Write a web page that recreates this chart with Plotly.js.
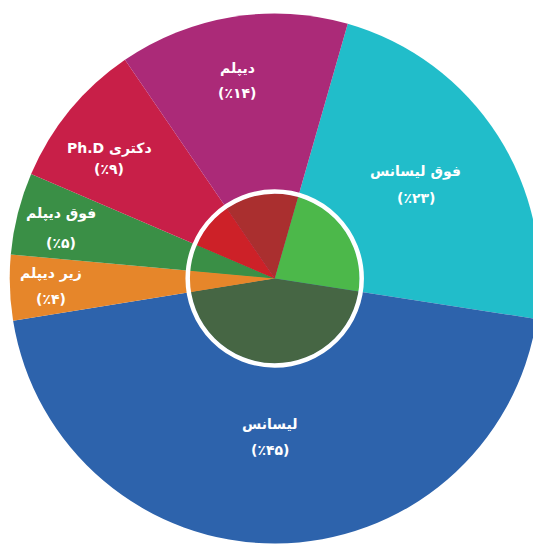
<!DOCTYPE html>
<html>
<head>
<meta charset="utf-8">
<script src="https://cdn.plot.ly/plotly-3.0.1.min.js"></script>
<style>html,body{margin:0;padding:0;overflow:hidden;background:#fff}</style>
</head>
<body>
<div id="chart"></div>
<script>
// Data (slice order as drawn, clockwise from top-right)
var labels = ['فوق لیسانس', 'لیسانس', 'زیر دیپلم', 'فوق دیپلم', 'Ph.D دکتری', 'دیپلم'];
var values = [23, 45, 4, 5, 9, 14];
var pctLabels = ['(٪۲۳)', '(٪۴۵)', '(٪۴)', '(٪۵)', '(٪۹)', '(٪۱۴)'];
var outerColors = ['#21bdca', '#2d63ac', '#e6862a', '#3a8f46', '#c81f48', '#ab2a78'];
var innerColors = ['#4cb84a', '#466644', '#e6862a', '#3a8f46', '#cd2128', '#aa2f2f'];

// Layout geometry (pixels)
var W = 560, H = 544;
var cx = 274.7, cy = 278.5, R = 265, r = 85, ringR = 87;
var rotation = 16;
var labelFrac = [0.64, 0.60, 0.845, 0.83, 0.77, 0.76];
var labelDAng = [1, -2, 0, 1, 3.5, 1.5];
var lineGap = [13, 13, 13, 15, 10, 12.5];

function px2x(p) { return p / W; }
function py2y(p) { return (H - p) / H; }

var traces = [
  {
    type: 'pie', labels: labels, values: values, sort: false,
    direction: 'clockwise', rotation: rotation,
    marker: {colors: outerColors, line: {width: 0}},
    textinfo: 'none', hoverinfo: 'label+percent',
    domain: {x: [px2x(cx - R), px2x(cx + R)], y: [py2y(cy + R), py2y(cy - R)]},
    showlegend: false
  },
  {
    type: 'pie', labels: labels, values: values, sort: false,
    direction: 'clockwise', rotation: rotation,
    marker: {colors: innerColors, line: {width: 0}},
    textinfo: 'none', hoverinfo: 'label+percent',
    domain: {x: [px2x(cx - r), px2x(cx + r)], y: [py2y(cy + r), py2y(cy - r)]},
    showlegend: false
  }
];

// Label annotations placed along each slice's bisector
var total = values.reduce(function (a, b) { return a + b; }, 0);
var annotations = [];
var acc = 0;
for (var i = 0; i < values.length; i++) {
  var midClock = rotation + (acc + values[i] / 2) / total * 360; // degrees clockwise from 12 o'clock
  acc += values[i];
  var math = (90 - midClock + labelDAng[i]) * Math.PI / 180;
  var rr = labelFrac[i] * R;
  var lx = cx + rr * Math.cos(math);
  var ly = cy - rr * Math.sin(math);
  var f = {family: 'DejaVu Sans, sans-serif', size: 14, color: '#ffffff', weight: 'bold'};
  annotations.push({x: px2x(lx), y: py2y(ly - lineGap[i]), xref: 'paper', yref: 'paper',
    text: labels[i], showarrow: false, font: f, xanchor: 'center', yanchor: 'middle'});
  annotations.push({x: px2x(lx), y: py2y(ly + lineGap[i]), xref: 'paper', yref: 'paper',
    text: pctLabels[i], showarrow: false, font: f, xanchor: 'center', yanchor: 'middle'});
}

var layout = {
  width: W, height: H,
  margin: {l: 0, r: 0, t: 0, b: 0},
  paper_bgcolor: '#ffffff',
  showlegend: false,
  annotations: annotations,
  shapes: [{
    type: 'circle', xref: 'paper', yref: 'paper',
    x0: px2x(cx - ringR), x1: px2x(cx + ringR),
    y0: py2y(cy + ringR), y1: py2y(cy - ringR),
    line: {color: '#ffffff', width: 4.5}, fillcolor: 'rgba(0,0,0,0)'
  }]
};

Plotly.newPlot('chart', traces, layout, {displayModeBar: false, staticPlot: true});
</script>
</body>
</html>
